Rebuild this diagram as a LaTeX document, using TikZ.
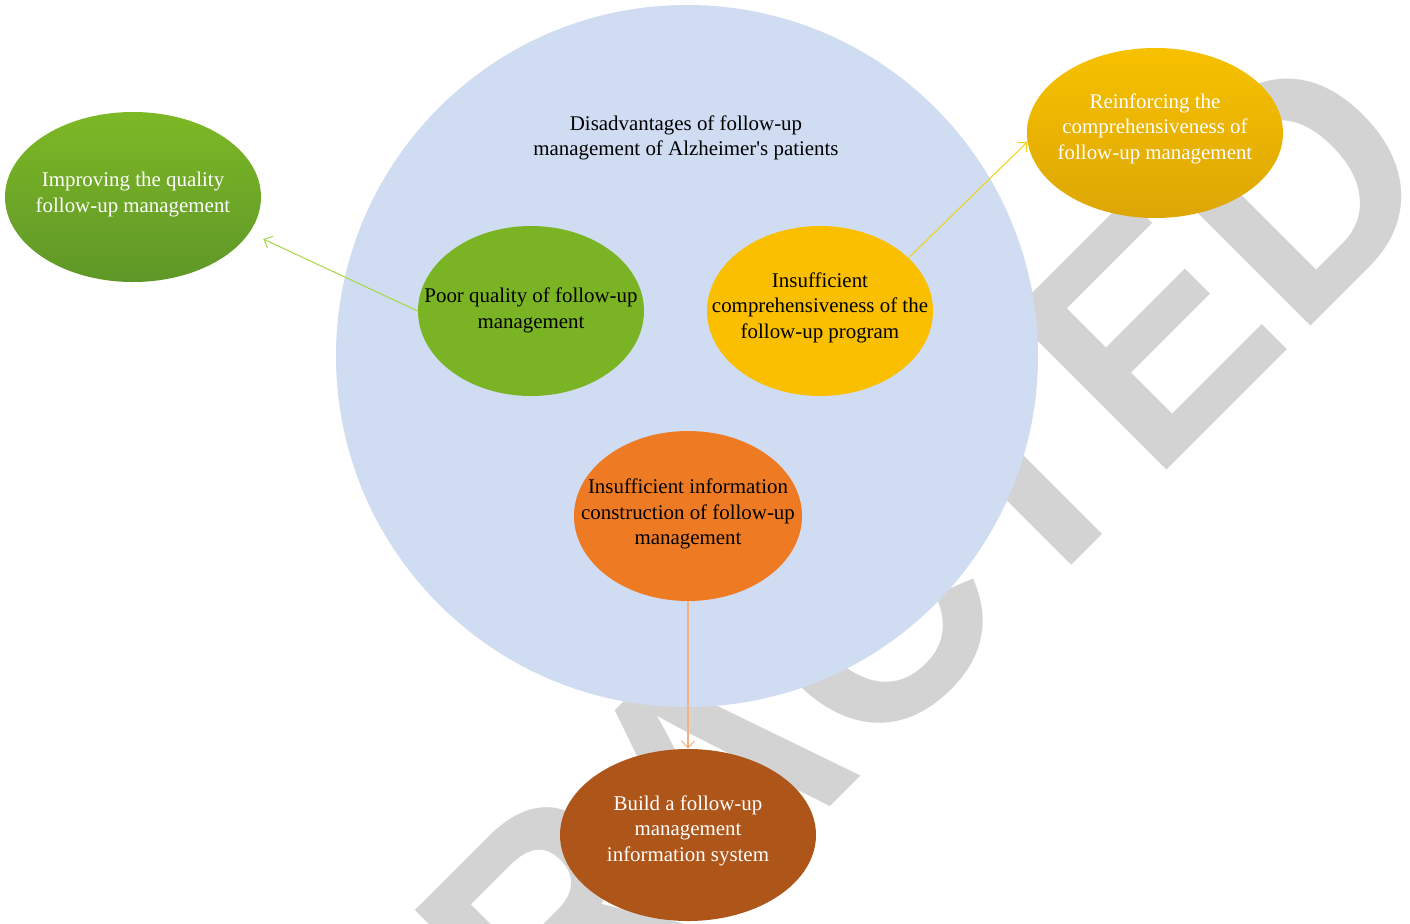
\documentclass[tikz,border=0pt]{standalone}
\usepackage{fontspec}
\usetikzlibrary{shapes.geometric,arrows.meta}
\setmainfont{Liberation Serif}
\newfontfamily\stampfont{Liberation Sans}

\definecolor{circblue}{HTML}{CFDCF1}
\definecolor{poorgreen}{HTML}{7AB424}
\definecolor{imprtop}{HTML}{7DB826}
\definecolor{imprbot}{HTML}{5F9727}
\definecolor{insufyellow}{HTML}{F9BF00}
\definecolor{reinftop}{HTML}{F7C100}
\definecolor{reinfbot}{HTML}{DDA605}
\definecolor{infoorange}{HTML}{EE7B23}
\definecolor{buildbrown}{HTML}{AE551A}
\definecolor{stampgray}{HTML}{D3D3D3}
\definecolor{greenline}{HTML}{A8D84B}
\definecolor{yellowline}{HTML}{F2D21B}
\definecolor{orangeline}{HTML}{F4B183}

\begin{document}
\begin{tikzpicture}[x=0.2mm, y=-0.2mm]
		\tikzset{nd/.style={ellipse, inner sep=0pt, minimum height=34mm},
			txt/.style={align=center, inner sep=0pt, font=\fontsize{11.9}{14.5}\selectfont},
			lnk/.style={line width=0.6pt, -{Straight Barb[length=1.4mm, width=2.6mm]}}};

		\useasboundingbox (0, 0) rectangle (1410, 923);
		\clip (0, 0) rectangle (1410, 923);

		% stamp lies under everything
		\node[rotate=45, xscale=0.95, anchor=base, inner sep=0pt, text=stampgray,
			font=\stampfont\bfseries\fontsize{182}{182}\selectfont] (stamp) at (789, 848) {RETRACTED};

		\node[circle, inner sep=0pt, minimum size=140.4mm, fill=circblue] (disadv) at (687, 356) {};
		\node[txt] (disadv-t) at (686, 138) {Disadvantages of follow-up\\management of Alzheimer\textquotesingle s patients};

		% causes
		\node[nd, minimum width=45.2mm, fill=poorgreen] (poor) at (531, 311) {};
		\node[nd, minimum width=45.2mm, fill=insufyellow] (insuf) at (820, 311) {};
		\node[nd, minimum width=45.6mm, fill=infoorange] (info) at (688, 516) {};

		\node[txt, yshift=0.1mm] (poor-t) at (poor) {Poor quality of follow-up\\management};
		\node[txt, yshift=0.7mm] (insuf-t) at (insuf) {Insufficient\\comprehensiveness of the\\follow-up program};
		\node[txt, yshift=0.4mm] (info-t) at (info) {Insufficient information\\construction of follow-up\\management};

		% measures
		\node[nd, minimum width=51.2mm, top color=imprtop, bottom color=imprbot] (impr) at (133, 197) {};
		\node[nd, minimum width=51.2mm, top color=reinftop, bottom color=reinfbot] (reinf) at (1155, 133) {};
		\node[nd, minimum width=51.2mm, minimum height=34.4mm, fill=buildbrown] (build) at (688, 835) {};

		\node[txt, white, yshift=0.5mm] (impr-t) at (impr) {Improving the quality\\follow-up management};
		\node[txt, white, yshift=0.9mm] (reinf-t) at (reinf) {Reinforcing the\\comprehensiveness of\\follow-up management};
		\node[txt, white, yshift=0.9mm] (build-t) at (build) {Build a follow-up\\management\\information system};

		\draw[lnk, greenline, shorten >=3mm] (poor.west) to (impr.-17);
		\draw[lnk, yellowline] (insuf.31) to (reinf.184);
		\draw[lnk, orangeline] (info.south) to (build.north);
	\end{tikzpicture}
\end{document}
